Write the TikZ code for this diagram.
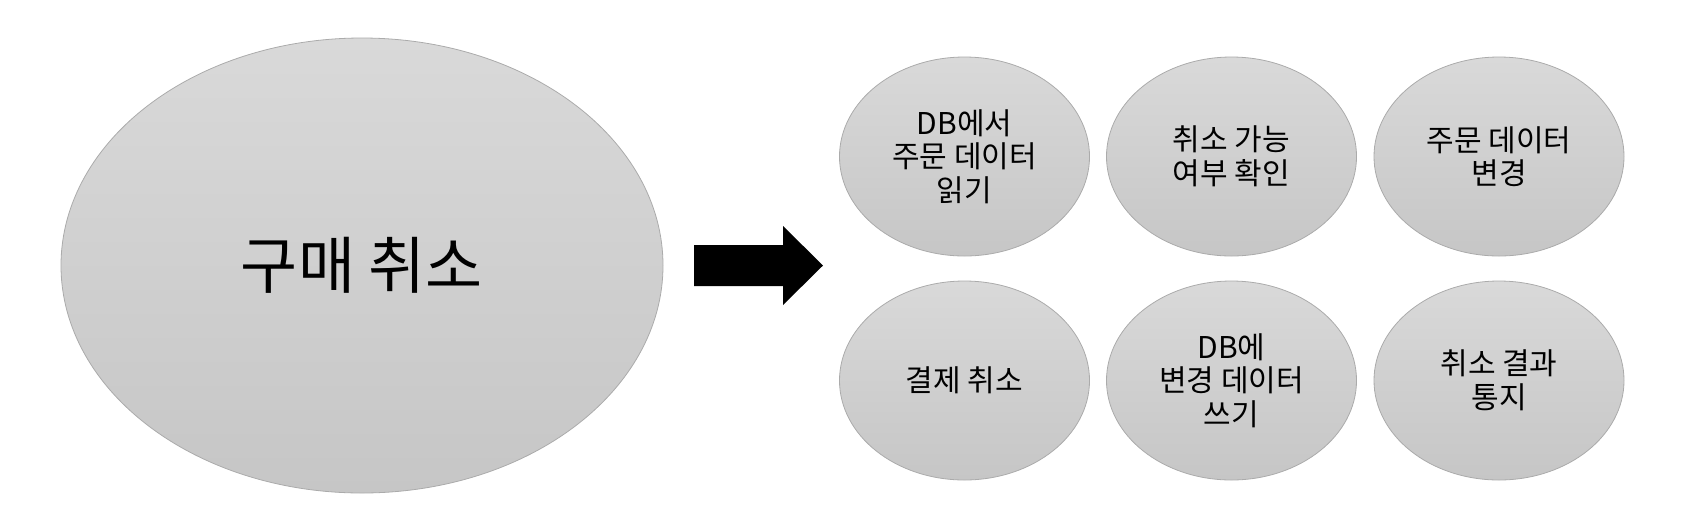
\documentclass[tikz,border=0pt]{standalone}
\usepackage{fontspec}
\setmainfont{Noto Sans CJK KR}
\usetikzlibrary{shapes.geometric}
\definecolor{topg}{HTML}{D9D9D9}
\definecolor{botg}{HTML}{C6C6C6}
\definecolor{edgeg}{HTML}{ABABAB}
\tikzset{
  oval/.style={ellipse, draw=edgeg, line width=0.4pt, top color=topg, bottom color=botg,
    inner sep=0pt, align=center, text=black},
  smalloval/.style={oval, minimum width=125pt, minimum height=99.5pt,
    font=\fontsize{15pt}{16.8pt}\selectfont},
  bigoval/.style={oval, minimum width=301pt, minimum height=227.5pt,
    font=\fontsize{31pt}{36pt}\selectfont},
  blockarrow/.style={fill=black}
}
\begin{document}
\begin{tikzpicture}[x=0.5pt,y=-0.5pt]
\useasboundingbox (0,0) rectangle (1682,526);
\node[bigoval] (main) at (362,265.5) {구매 취소};
\fill[blockarrow] (694,245) -- (783,245) -- (783,226) -- (823,265.5) -- (783,305) -- (783,286) -- (694,286) -- cycle;
\node[smalloval] (a) at (964.5,156.5) {DB에서\\주문 데이터\\읽기};
\node[smalloval] (b) at (1231.5,156.5) {취소 가능\\여부 확인};
\node[smalloval] (c) at (1499,156.5) {주문 데이터\\변경};
\node[smalloval] (d) at (964.5,380.5) {결제 취소};
\node[smalloval] (e) at (1231.5,380.5) {DB에\\변경 데이터\\쓰기};
\node[smalloval] (f) at (1499,380.5) {취소 결과\\통지};
\end{tikzpicture}
\end{document}
